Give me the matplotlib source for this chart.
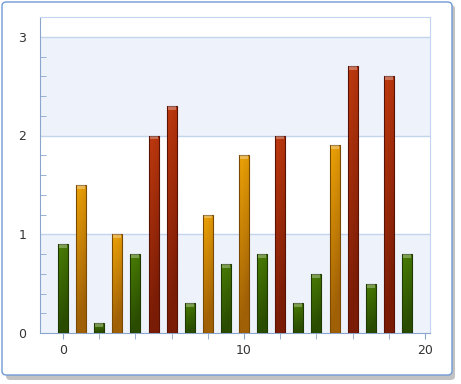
import numpy as np
import matplotlib.pyplot as plt
from matplotlib.patches import FancyBboxPatch
from matplotlib.colors import LinearSegmentedColormap

# data
xs = list(range(20))
values = [0.9, 1.5, 0.1, 1.0, 0.8, 2.0, 2.3, 0.3, 1.2, 0.7,
          1.8, 0.8, 2.0, 0.3, 0.6, 1.9, 2.7, 0.5, 2.6, 0.8]
x_ticks = [0, 10, 20]
y_ticks = [0, 1, 2, 3]

# colour ranges by value
palettes = {
    'green': ('#4a7e04', '#2a4c00', '#1f3a00'),
    'orange': ('#eea406', '#a06006', '#7a4a02'),
    'red': ('#c03a0e', '#7a1c06', '#5a1204'),
}

def pick(v):
    if v < 1:
        return 'green'
    if v < 2:
        return 'orange'
    return 'red'

fig = plt.figure(figsize=(4.61, 3.84), dpi=100)

# outer frame with shadow
shadow = FancyBboxPatch((6 / 461, 4 / 384), 449 / 461, 375 / 384,
                        boxstyle='round,pad=0,rounding_size=0.01',
                        transform=fig.transFigure, facecolor='#9a9a9a',
                        edgecolor='none', alpha=0.6, zorder=0)
frame = FancyBboxPatch((2 / 461, 9 / 384), 450 / 461, 373 / 384,
                       boxstyle='round,pad=0,rounding_size=0.01',
                       transform=fig.transFigure, facecolor='white',
                       edgecolor='#6f9ad6', linewidth=1.0, zorder=1)
fig.patches.extend([shadow, frame])

ax = fig.add_axes([40 / 461, 51 / 384, 390 / 461, 316 / 384])
ax.set_zorder(2)
ax.patch.set_alpha(0)
ax.set_xlim(-1.27, 20.27)
ax.set_ylim(0, 3.2)

# banded background
for lo, hi in [(0, 1), (2, 3)]:
    ax.axhspan(lo, hi, color='#eef3fb', zorder=0, lw=0)
for y in [1, 2, 3]:
    ax.axhline(y, color='#c2d4ee', lw=1, zorder=1)

width = 0.55
bars = ax.bar(xs, values, width=width, color='none', edgecolor='none', zorder=3)
for b, v in zip(bars, values):
    top, mid, dark = palettes[pick(v)]
    cmap = LinearSegmentedColormap.from_list('g', [top, mid])
    x0 = b.get_x()
    h = b.get_height()
    # vertical gradient, darker to the right
    vert = np.linspace(1, 0, 64)[:, None]
    horiz = np.linspace(0, 0.35, 16)[None, :]
    grad = np.clip(1 - vert + horiz * 0.6, 0, 1)
    im = ax.imshow(grad, cmap=cmap, extent=[x0, x0 + width, 0, h],
                   aspect='auto', zorder=3, interpolation='bilinear',
                   vmin=0, vmax=1)
    im.set_clip_path(b)
    ax.bar(b.get_x() + width / 2, h, width=width, color='none',
           edgecolor=dark, linewidth=0.8, zorder=4)
    # highlight cap
    cap = min(0.04, h * 0.5)
    ax.bar(b.get_x() + width / 2, cap, bottom=h - cap, width=width * 0.8,
           color='white', alpha=0.3, lw=0, zorder=5)

ax.set_xticks(x_ticks)
ax.set_xticks(range(0, 21, 2), minor=True)
ax.set_yticks(y_ticks)
ax.set_yticks(np.arange(0, 3.21, 0.2), minor=True)

for side in ['top', 'right']:
    ax.spines[side].set_color('#c2d4ee')
for side in ['left', 'bottom']:
    ax.spines[side].set_color('#8aa6cc')

ax.tick_params(axis='x', which='both', direction='out', length=4,
               color='#8aa6cc', labelsize=9, labelcolor='#333333', pad=4)
ax.tick_params(axis='y', which='major', direction='in', length=0,
               labelsize=9, labelcolor='#333333', pad=10)
ax.tick_params(axis='y', which='minor', direction='in', length=4,
               color='#8aa6cc')

plt.savefig('out.png', dpi=100)
